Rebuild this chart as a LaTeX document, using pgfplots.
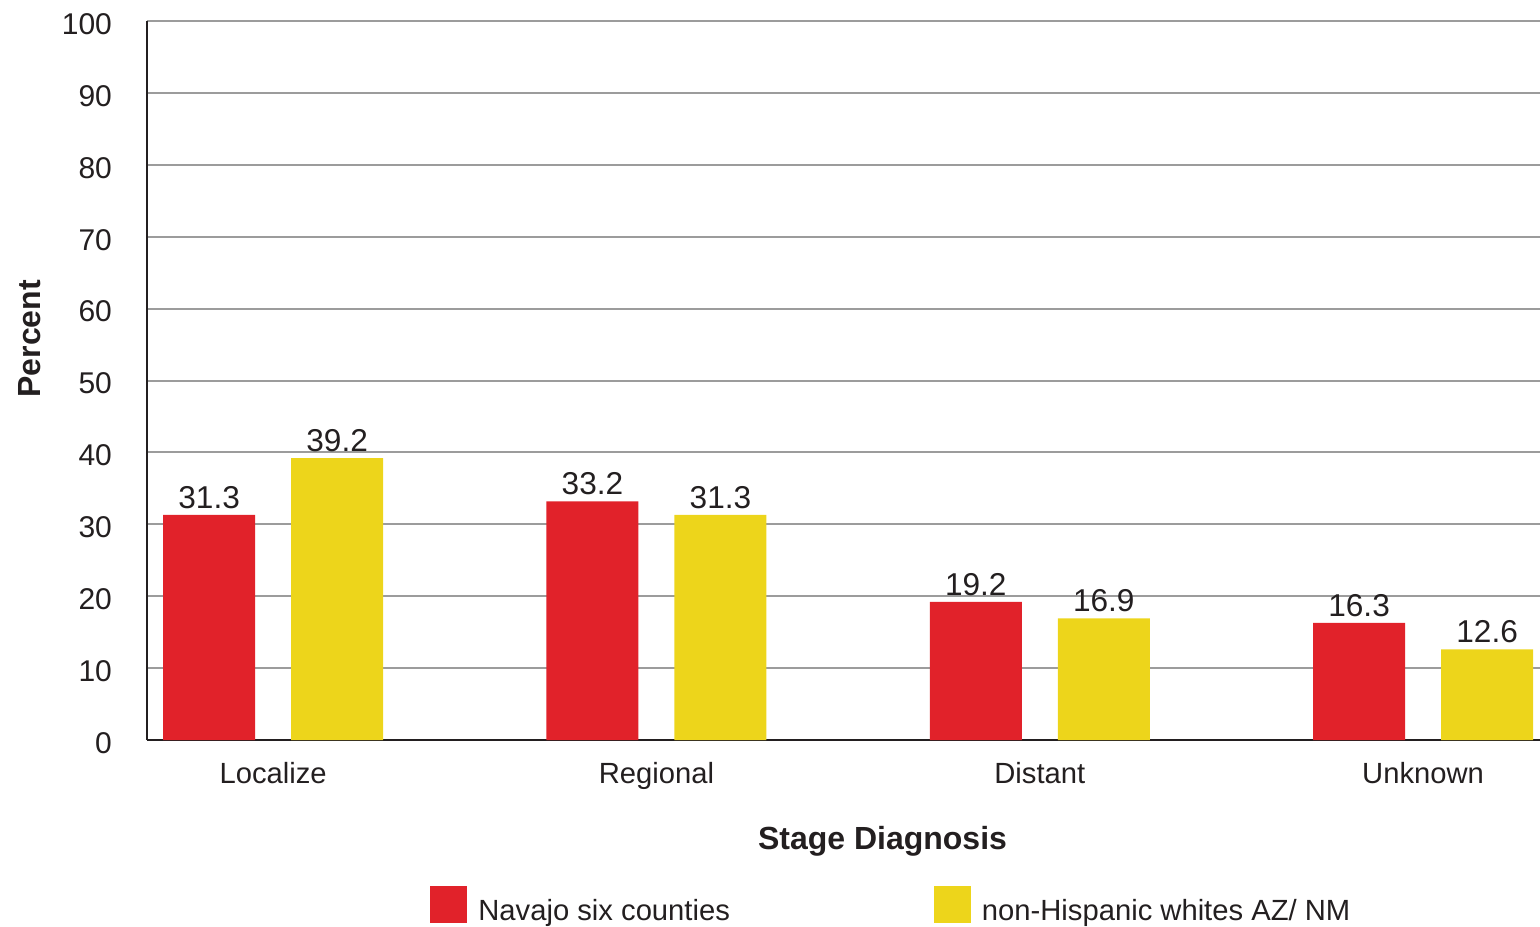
\documentclass[border=0pt]{standalone}
\usepackage{fontspec}
\setmainfont{Liberation Sans}
\usepackage{pgfplots}
\pgfplotsset{compat=1.18}
\definecolor{navred}{HTML}{E1222A}
\definecolor{nhwyellow}{HTML}{EDD51B}
\definecolor{gridgray}{HTML}{9C9C9C}
\definecolor{txt}{HTML}{231F20}

\begin{document}
\begin{tikzpicture}
\begin{axis}[
    scale only axis,
    width=696.5pt, height=359.5pt,
    ybar,
    xmin=-0.329, xmax=3.305,
    ymin=0, ymax=100,
    ytick={0,10,...,100},
    xtick={0,1,2,3},
    xticklabels={Localize,Regional,Distant,Unknown},
    axis x line*=bottom, axis y line*=left,
    axis line style={line width=1pt, color=txt, -},
    ymajorgrids,
    major grid style={line width=1pt, gridgray},
    major tick length=0pt,
    /pgf/number format/assume math mode=true,
    yticklabel style={font=\fontsize{15}{18}\selectfont, text=txt, xshift=-14pt, yshift=-1.5pt},
    xticklabel style={font=\fontsize{14.6}{17}\selectfont, text=txt, yshift=-7.5pt},
    xlabel={\textbf{Stage Diagnosis}},
    xlabel style={at={(rel axis cs:0.528,0)}, anchor=center, yshift=-50.5pt, font=\fontsize{16}{19}\selectfont, text=txt},
    ylabel={\textbf{Percent}},
    ylabel style={at={(rel axis cs:0,0.558)}, anchor=center, yshift=58.5pt, font=\fontsize{16}{19}\selectfont, text=txt},
    bar width=46pt,
    nodes near coords,
    nodes near coords style={font=\fontsize{15.8}{19}\selectfont, text=txt, inner sep=3pt},
    every node near coord/.append style={/pgf/number format/.cd, fixed, fixed zerofill, precision=1},
    legend columns=2,
    legend image code/.code={\fill[#1] (0pt,-5.75pt) rectangle (18.5pt,12.75pt);},
    legend style={at={(rel axis cs:0,0)}, anchor=north west, xshift=141.5pt, yshift=-73pt,
        draw=none, fill=none, inner sep=0pt, font=\fontsize{14.6}{17}\selectfont, text=txt,
        nodes={inner sep=0pt},
        /tikz/every odd column/.append style={column sep=5.5pt},
        /tikz/every even column/.append style={column sep=102pt}},
]
\addplot[fill=navred, draw=none, bar shift=-32pt] coordinates {(0,31.3) (1,33.2) (2,19.2) (3,16.3)};
\addlegendentry{Navajo six counties}
\addplot[fill=nhwyellow, draw=none, bar shift=32pt] coordinates {(0,39.2) (1,31.3) (2,16.9) (3,12.6)};
\addlegendentry{non-Hispanic whites AZ/ NM}
\end{axis}
\pgfresetboundingbox
\useasboundingbox (-73.5pt,-93pt) rectangle (696.5pt,370pt);
\end{tikzpicture}
\end{document}
